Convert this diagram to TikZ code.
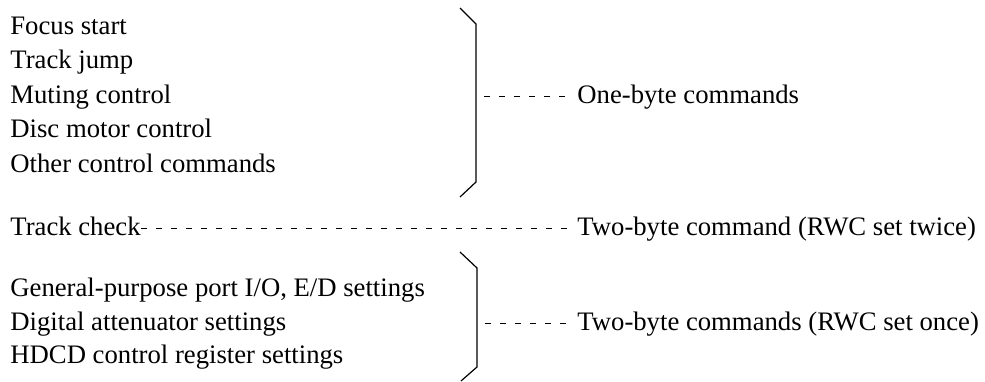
\documentclass[tikz,border=0pt]{standalone}
\usepackage{fontspec}
\setmainfont{Liberation Serif}
\tikzset{
  item/.style={anchor=base west, inner sep=0pt, text height=6.5pt, text depth=0pt, font=\fontsize{13.35}{16}\selectfont},
  brace/.style={line width=0.6pt},
  lead/.style={line width=0.8pt, dash pattern=on 3pt off 4.5pt}
}
\begin{document}
\begin{tikzpicture}[x=0.5pt,y=-0.5pt]
\useasboundingbox (0,0) rectangle (985,381);

\node [item] (1) at (10,34) {Focus start};
\node [item] (2) at (10,68.5) {Track jump};
\node [item] (3) at (10,103) {Muting control};
\node [item] (4) at (10,137.5) {Disc motor control};
\node [item] (5) at (10,172) {Other control commands};

\node [item] (6) at (10,235) {Track check};

\node [item] (7) at (10,296) {General-purpose port I/O, E/D settings};
\node [item] (8) at (10,330) {Digital attenuator settings};
\node [item] (9) at (10,363.5) {HDCD control register settings};

\node [item] (one) at (577,103) {One-byte commands};
\node [item] (twice) at (577,235) {Two-byte command (RWC set twice)};
\node [item] (once) at (577,330) {Two-byte commands (RWC set once)};

% brackets
\draw[brace] (460,8) -- (476,24) -- (476,182) -- (460,197);
\coordinate (b1) at (484,96.5);
\draw[brace] (460,252) -- (477,268) -- (477,367) -- (461,381);
\coordinate (b2) at (485,323.5);

\draw[lead, shorten >=5pt] (b1) -- (one.west);
\draw[lead, shorten >=5pt] (6.east) -- (twice.west);
\draw[lead, shorten >=5pt] (b2) -- (once.west);
\end{tikzpicture}
\end{document}
